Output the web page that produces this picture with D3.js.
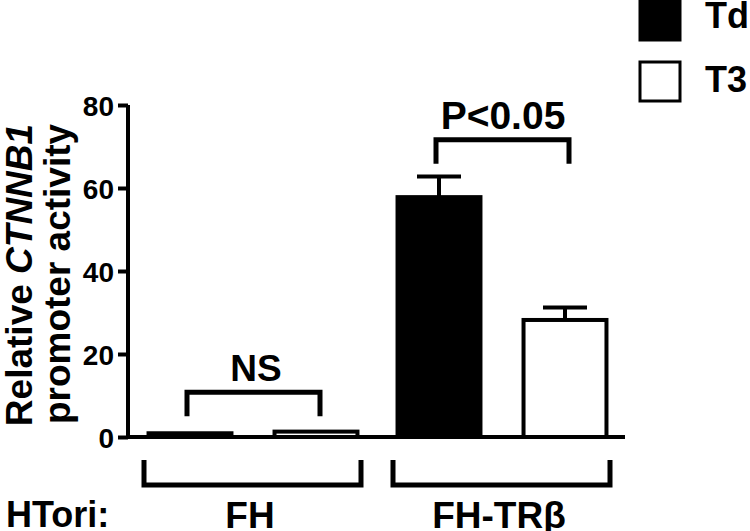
<!DOCTYPE html>
<html><head><meta charset="utf-8">
<script src="https://cdn.jsdelivr.net/npm/d3@7"></script>
<style>
html,body{margin:0;padding:0;background:#fff;}
svg{display:block;}
text{font-family:"Liberation Sans",Arial,Helvetica,sans-serif;font-weight:bold;fill:#000;}
</style></head>
<body>
<svg id="chart" width="750" height="531"></svg>
<script>
const groups = ["FH", "FH-TRβ"];
const series = ["Td", "T3"];
const tdValues = [0.9, 57.8];
const t3Values = [1.3, 28.2];
const tdErrors = [0, 5];
const t3Errors = [0, 3];
const yTicks = [0, 20, 40, 60, 80];
const sigLabels = ["NS", "P<0.05"];
const sigLevels = [10.8, 71.6];

const svg = d3.select("#chart");
const y = d3.scaleLinear().domain([0, 80]).range([437, 105]);
const xg = d3.scalePoint().domain(groups).range([253, 502]);
const xs = d3.scaleBand().domain(series).range([-126, 126]).paddingInner(0.31).paddingOuter(0.155);
const fills = {Td: "#000", T3: "#fff"};

const data = [];
groups.forEach((g, i) => {
  data.push({g, s: "Td", v: tdValues[i], e: tdErrors[i]});
  data.push({g, s: "T3", v: t3Values[i], e: t3Errors[i]});
});

// bars
svg.selectAll("rect.bar").data(data).enter().append("rect")
  .attr("class", "bar")
  .attr("x", d => xg(d.g) + xs(d.s) + 2)
  .attr("width", xs.bandwidth() - 4)
  .attr("y", d => y(d.v))
  .attr("height", d => y(0) - y(d.v))
  .attr("fill", d => fills[d.s])
  .attr("stroke", "#000").attr("stroke-width", 4);

// error bars
const eb = data.filter(d => d.e > 0);
const cx = d => xg(d.g) + xs(d.s) + xs.bandwidth() / 2;
svg.selectAll("line.err").data(eb).enter().append("line")
  .attr("x1", cx).attr("x2", cx)
  .attr("y1", d => y(d.v)).attr("y2", d => y(d.v + d.e))
  .attr("stroke", "#000").attr("stroke-width", 4);
svg.selectAll("line.cap").data(eb).enter().append("line")
  .attr("x1", d => cx(d) - 22).attr("x2", d => cx(d) + 22)
  .attr("y1", d => y(d.v + d.e)).attr("y2", d => y(d.v + d.e))
  .attr("stroke", "#000").attr("stroke-width", 4);

// y axis
const yAxis = d3.axisLeft(y).tickValues(yTicks).tickSize(10).tickPadding(4);
const ga = svg.append("g").attr("transform", "translate(128,0)").call(yAxis);
ga.select(".domain").attr("stroke-width", 4).attr("d", "M0," + y(80) + "V" + y(0));
ga.selectAll(".tick line").attr("stroke-width", 4);
ga.selectAll(".tick text").style("font-size", "28px").attr("fill", "#000").attr("dy", "0.36em");

// x axis line
svg.append("line").attr("x1", 126).attr("x2", 625).attr("y1", y(0)).attr("y2", y(0))
  .attr("stroke", "#000").attr("stroke-width", 4);

// y label
const yl = svg.append("text").attr("transform", "translate(32,275) rotate(-90)")
  .attr("text-anchor", "middle").style("font-size", "37px");
yl.append("tspan").text("Relative ");
yl.append("tspan").style("font-style", "italic").text("CTNNB1");
svg.append("text").attr("transform", "translate(70,274) rotate(-90)")
  .attr("text-anchor", "middle").style("font-size", "37px").text("promoter activity");

// significance brackets
groups.forEach((g, i) => {
  const c = xg(g);
  const yy = y(sigLevels[i]);
  svg.append("path")
    .attr("d", `M${c - 66},${yy + 24}V${yy}H${c + 67}V${yy + 24}`)
    .attr("fill", "none").attr("stroke", "#000").attr("stroke-width", 5);
  svg.append("text").attr("x", c + (i === 0 ? 3 : 1)).attr("y", yy - 11)
    .attr("text-anchor", "middle").style("font-size", i === 0 ? "37px" : "39px").text(sigLabels[i]);
});

// group brackets
groups.forEach(g => {
  const c = xg(g);
  svg.append("path")
    .attr("d", `M${c - 109},460V485H${c + 108}V460`)
    .attr("fill", "none").attr("stroke", "#000").attr("stroke-width", 5);
  svg.append("text").attr("x", c - 3).attr("y", 528)
    .attr("text-anchor", "middle").style("font-size", "37px").text(g);
});
svg.append("text").attr("x", 6).attr("y", 527).style("font-size", "36px").text("HTori:");

// legend
series.forEach((s, i) => {
  svg.append("rect").attr("x", 640).attr("y", 1 + i * 61).attr("width", 40).attr("height", 39)
    .attr("fill", fills[s]).attr("stroke", "#000").attr("stroke-width", 3);
  svg.append("text").attr("x", 705).attr("y", 28 + i * 64).style("font-size", "36px").text(s);
});
</script>
</body></html>
